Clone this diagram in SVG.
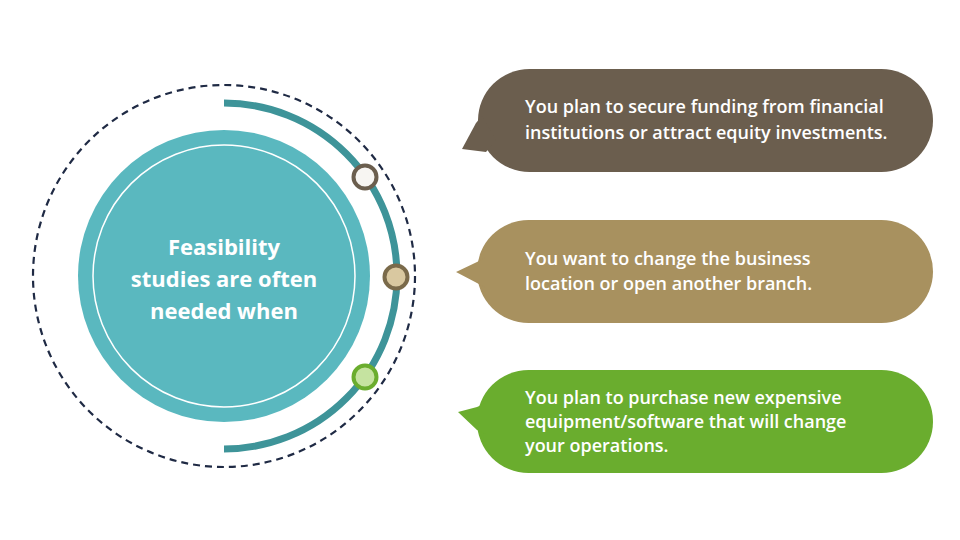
<svg xmlns="http://www.w3.org/2000/svg" width="960" height="540" viewBox="0 0 960 540">
<style>
.ctext{font-family:"Open Sans","Liberation Sans",sans-serif;font-weight:700;font-size:22px;fill:#ffffff;text-anchor:middle}
.btext{font-family:"Open Sans","Liberation Sans",sans-serif;font-weight:600;font-size:18px;fill:#ffffff}
.dot{stroke-width:4}
</style>
<rect width="960" height="540" fill="#ffffff"/>
<g id="hub">
<circle cx="224" cy="276" r="191" fill="none" stroke="#1f2a44" stroke-width="2.2" stroke-dasharray="7 5"/>
<path d="M224,103 A173,173 0 0 1 224,449" fill="none" stroke="#3e9499" stroke-width="7"/>
<circle cx="224" cy="276" r="146" fill="#5ab8bf"/>
<circle cx="224" cy="276" r="131" fill="none" stroke="#ffffff" stroke-width="1.5"/>
<text class="ctext" x="224" y="255">Feasibility</text>
<text class="ctext" x="224" y="287">studies are often</text>
<text class="ctext" x="224" y="319">needed when</text>
</g>
<g id="connectors">
<circle class="dot" cx="365" cy="177" r="11.5" fill="#f7f5f2" stroke="#6b5e4e"/>
<circle class="dot" cx="396" cy="277" r="11.5" fill="#d9c8a0" stroke="#7a6a4a"/>
<circle class="dot" cx="365" cy="377" r="11.5" fill="#c5e3a0" stroke="#6aad2e"/>
</g>
<g id="bubble1">
<rect x="478" y="69" width="455" height="103" rx="51.5" fill="#6b5e4e"/>
<polygon points="482,116 476,123 462,149 486,152 496,140" fill="#6b5e4e"/>
<text class="btext" x="525" y="113">You plan to secure funding from financial</text>
<text class="btext" x="525" y="139">institutions or attract equity investments.</text>
</g>
<g id="bubble2">
<rect x="477" y="220" width="456" height="103" rx="51.5" fill="#a8915f"/>
<polygon points="486,257 477,262 456,272 477,283 486,288" fill="#a8915f"/>
<text class="btext" x="525" y="265">You want to change the business</text>
<text class="btext" x="525" y="290">location or open another branch.</text>
</g>
<g id="bubble3">
<rect x="477" y="370" width="456" height="103" rx="51.5" fill="#6aad2e"/>
<polygon points="486,403 477,407 458,412 477,430 486,434" fill="#6aad2e"/>
<text class="btext" x="525" y="404">You plan to purchase new expensive</text>
<text class="btext" x="525" y="428">equipment/software that will change</text>
<text class="btext" x="525" y="452">your operations.</text>
</g>
</svg>
